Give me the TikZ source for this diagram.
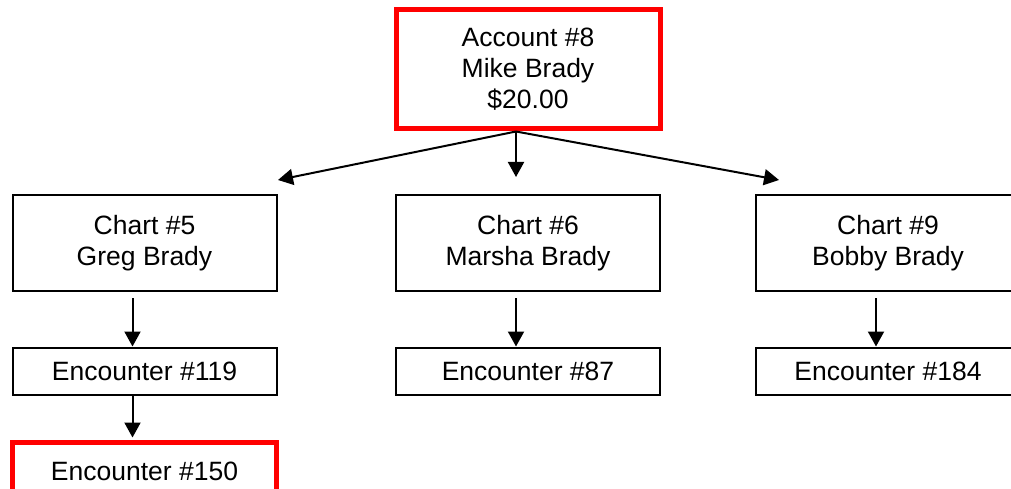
\documentclass[tikz,border=0pt]{standalone}
\usepackage{fontspec}
\setmainfont{Liberation Sans}
\usetikzlibrary{arrows.meta}

\begin{document}
\begin{tikzpicture}[
    x=1pt, y=-1pt,
    box/.style={draw, line width=2pt, minimum width=264pt, align=center,
                inner sep=0pt, font=\fontsize{26.5}{31}\selectfont},
    chartbox/.style={box, minimum height=96pt},
    encbox/.style={box, minimum height=47pt},
    hilite/.style={draw=red, line width=5pt},
    flow/.style={-{Triangle[length=15pt,width=16pt]}, line width=2pt},
]
    \useasboundingbox (0,0) rectangle (1011,489);

    \node[box, hilite, minimum height=119pt] (acct) at (528,69.5) {Account \#8\\Mike Brady\\\$20.00};

    \node[chartbox] (greg) at (144.5,243) {Chart \#5\\Greg Brady};
    \node[chartbox] (marsha) at (528,243) {Chart \#6\\Marsha Brady};
    \node[chartbox] (bobby) at (888,243) {Chart \#9\\Bobby Brady};

    \node[encbox] (enc119) at (144.5,371) {Encounter \#119};
    \node[encbox] (enc87) at (528,371) {Encounter \#87};
    \node[encbox] (enc184) at (888,371) {Encounter \#184};
    \node[encbox, hilite, minimum height=58pt] (enc150) at (144.5,471) {Encounter \#150};

    % fan-out from the account
    \coordinate (fork) at ([xshift=-12pt]acct.south);
    \coordinate (toGreg) at (278,180);
    \coordinate (toMarsha) at (516,177);
    \coordinate (toBobby) at (779,180);
    \draw[flow] (fork) -- (toGreg);
    \draw[flow] (fork) -- (toMarsha);
    \draw[flow] (fork) -- (toBobby);

    % charts to encounters
    \draw[flow] ([shift={(-12,6)}]greg.south) -- ([xshift=-12pt]enc119.north);
    \draw[flow] ([shift={(-12,6)}]marsha.south) -- ([xshift=-12pt]enc87.north);
    \draw[flow] ([shift={(-12,6)}]bobby.south) -- ([xshift=-12pt]enc184.north);
    \draw[flow] ([xshift=-12pt]enc119.south) -- ([shift={(-12,-2)}]enc150.north);

\end{tikzpicture}
\end{document}
